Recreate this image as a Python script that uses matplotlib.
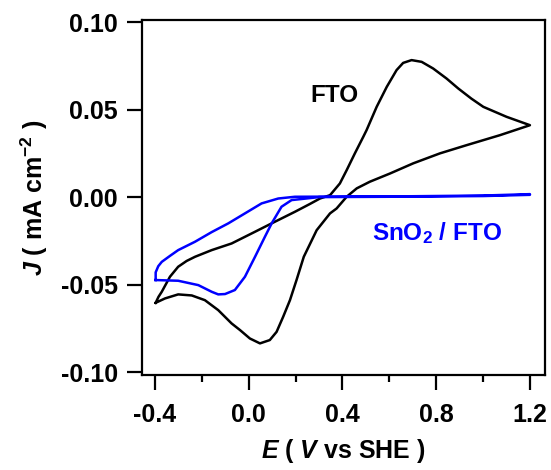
import matplotlib
matplotlib.use("Agg")
import matplotlib.pyplot as plt
from matplotlib.ticker import MultipleLocator

plt.rcParams["font.family"] = ["Liberation Sans", "DejaVu Sans"]
plt.rcParams["font.weight"] = "bold"
plt.rcParams["mathtext.fontset"] = "custom"
plt.rcParams["mathtext.rm"] = "Liberation Sans:bold"
plt.rcParams["mathtext.bf"] = "Liberation Sans:bold"
plt.rcParams["mathtext.it"] = "Liberation Sans:italic:bold"

# CV of bare FTO: anodic sweep then cathodic sweep back
fto_E = [-0.397, -0.385, -0.371, -0.336, -0.301, -0.265, -0.229, -0.158, -0.073,
         0.027, 0.098, 0.197, 0.260, 0.304, 0.347, 0.389, 0.418, 0.453, 0.489,
         0.503, 0.546, 0.589, 0.631, 0.659, 0.695, 0.738, 0.787, 0.844, 0.894,
         0.950, 1.001, 1.100, 1.200,
         1.072, 0.930, 0.816, 0.702, 0.603, 0.517, 0.461, 0.418, 0.375, 0.347,
         0.290, 0.235, 0.204, 0.176, 0.147, 0.119, 0.090, 0.048, 0.005, -0.037,
         -0.073, -0.130, -0.187, -0.243, -0.301, -0.357, -0.397]
fto_J = [-0.0604, -0.0570, -0.0541, -0.0455, -0.0398, -0.0365, -0.0341, -0.0303, -0.0265,
         -0.0198, -0.0150, -0.0084, -0.0040, -0.0008, 0.0011, 0.0078, 0.0154, 0.0250, 0.0345,
         0.0383, 0.0516, 0.0630, 0.0726, 0.0767, 0.0783, 0.0773, 0.0735, 0.0678, 0.0621,
         0.0563, 0.0516, 0.0459, 0.0411,
         0.0354, 0.0297, 0.0250, 0.0193, 0.0135, 0.0088, 0.0050, 0.0002, -0.0065, -0.0093,
         -0.0189, -0.0341, -0.0474, -0.0589, -0.0684, -0.0770, -0.0817, -0.0836, -0.0808, -0.0760,
         -0.0722, -0.0646, -0.0589, -0.0562, -0.0556, -0.0579, -0.0604]

# CV of SnO2 coated FTO
sno2_E = [-0.397, -0.397, -0.386, -0.371, -0.335, -0.301, -0.229, -0.158, -0.087,
          -0.016, 0.055, 0.126, 0.197, 0.400, 0.700, 1.000, 1.200,
          1.200, 1.000, 0.600, 0.300, 0.183, 0.140, 0.098, 0.069, 0.027, -0.016,
          -0.059, -0.101, -0.130, -0.158, -0.215, -0.301, -0.397]
sno2_J = [-0.0474, -0.0430, -0.0395, -0.0370, -0.0335, -0.0303, -0.0255, -0.0200, -0.0150,
          -0.0093, -0.0036, -0.0008, 0.0002, 0.0003, 0.0005, 0.0009, 0.0017,
          0.0013, 0.0006, 0.0002, 0.0000, -0.0017, -0.0055, -0.0150, -0.0227, -0.0341, -0.0455,
          -0.0531, -0.0554, -0.0556, -0.0541, -0.0503, -0.0478, -0.0474]

fig = plt.figure(figsize=(5.51, 4.70), dpi=100)
ax = fig.add_axes([0.257, 0.202, 0.732, 0.755])

ax.plot(fto_E, fto_J, color="black", lw=1.8, solid_joinstyle="round")
ax.plot(sno2_E, sno2_J, color="#0000ff", lw=1.8, solid_joinstyle="round")

ax.text(0.262, 0.0545, "FTO", color="black", fontsize=17.5, fontweight="bold")
ax.text(0.525, -0.0246, r"SnO$_2$ / FTO", color="#0000ff", fontsize=17.5,
        fontweight="bold")

ax.set_xlim(-0.457, 1.264)
ax.set_ylim(-0.1017, 0.1011)
ax.xaxis.set_major_locator(MultipleLocator(0.4))
ax.xaxis.set_minor_locator(MultipleLocator(0.2))
ax.yaxis.set_major_locator(MultipleLocator(0.05))
ax.xaxis.set_major_formatter(plt.FuncFormatter(lambda v, p: f"{v:.1f}"))
ax.yaxis.set_major_formatter(plt.FuncFormatter(lambda v, p: f"{v:.2f}"))

for s in ax.spines.values():
    s.set_linewidth(1.6)
ax.tick_params(which="major", direction="out", length=11, width=1.6, labelsize=18)
ax.tick_params(which="minor", direction="out", length=5, width=1.6)
ax.tick_params(axis="x", pad=9)
ax.tick_params(axis="y", pad=6)

ax.set_xlabel(r"$\it{E}$ ( $\it{V}$ vs SHE )", fontsize=18, fontweight="bold", labelpad=7)
ax.set_ylabel(r"$\it{J}$ ( mA cm$^{-2}$ )", fontsize=18, fontweight="bold", labelpad=8)

fig.savefig("out.png", dpi=100)
